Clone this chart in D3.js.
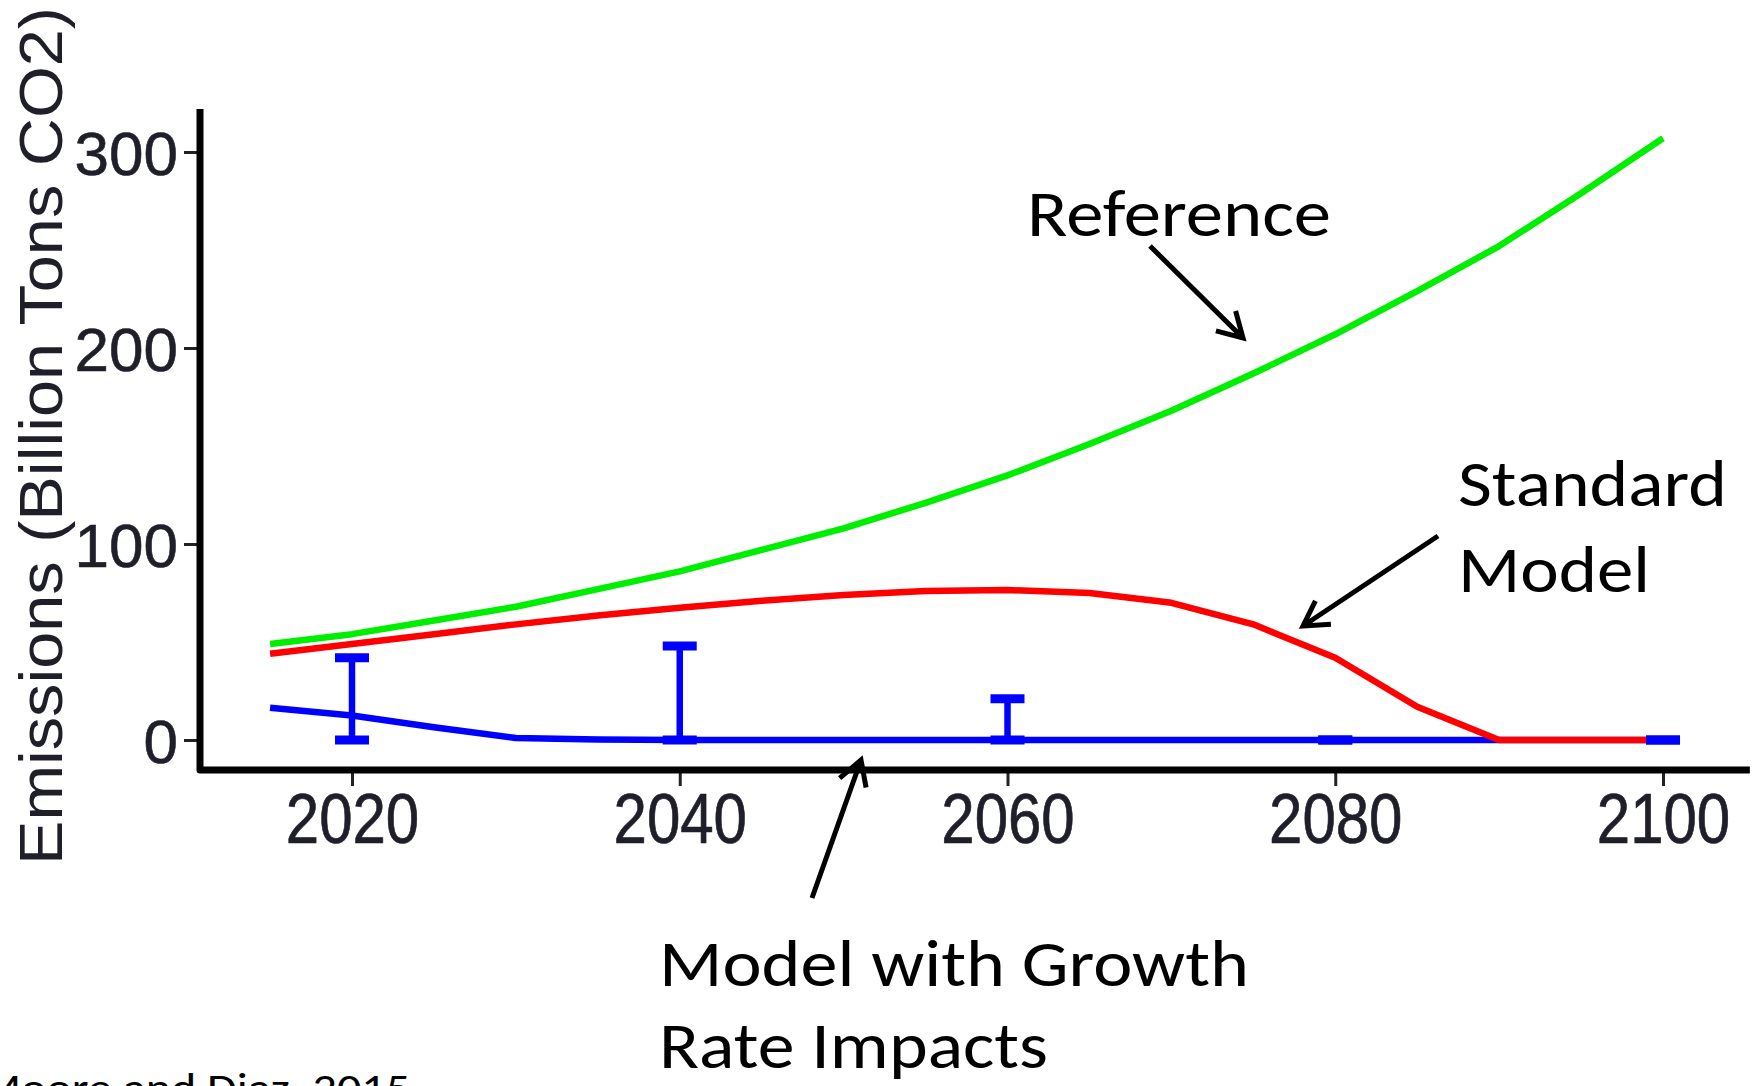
<!DOCTYPE html>
<html>
<head>
<meta charset="utf-8">
<script src="https://cdn.jsdelivr.net/npm/d3@7"></script>
<style>
  html, body { margin: 0; padding: 0; background: #ffffff; overflow: hidden; }
  svg { display: block; }
</style>
</head>
<body>
<svg id="chart" width="1764" height="1086"></svg>
<script>
// ---- Data ----
const years = [2015, 2020, 2025, 2030, 2035, 2040, 2045, 2050, 2055, 2060, 2065, 2070, 2075, 2080, 2085, 2090, 2095, 2100];
const referenceEmissions = [49, 54, 61, 68, 77, 86, 97, 108, 121, 135, 151, 168, 187, 207, 229, 252, 279, 307];
const standardEmissions  = [44, 49, 54, 59, 63.5, 67.5, 71, 74, 76, 76.5, 75, 70, 59, 42, 17, 0, 0, 0];
const growthEmissions    = [16.5, 12.5, 6.5, 1, 0.2, 0, 0, 0, 0, 0, 0, 0, 0, 0, 0, 0, 0, 0];

const errorYears = [2020, 2040, 2060, 2080, 2100];
const errorLow   = [0, 0, 0, 0, 0];
const errorHigh  = [42, 48, 21, 0, 0];

const xTicks = [2020, 2040, 2060, 2080, 2100];
const yTicks = [0, 100, 200, 300];

const yTitle = "Emissions (Billion Tons CO2)";
const annotations = [
  { lines: ["Reference"] },
  { lines: ["Standard", "Model"] },
  { lines: ["Model with Growth", "Rate Impacts"] }
];
const sourceNote = "Moore and Diaz, 2015";

// ---- Scales ----
const svg = d3.select("#chart");
const x = d3.scaleLinear().domain([2020, 2100]).range([352, 1663]);
const y = d3.scaleLinear().domain([0, 300]).range([740, 152]);
const xAxisExtent = [2010.7, 2105.3];
const yAxisExtent = [-15.3, 322];

const chartFont = "'Liberation Sans', Arial, sans-serif";
const noteFont = "Carlito, Lato, 'Open Sans', sans-serif";

// ---- Series lines ----
const line = d3.line().x(d => x(d[0])).y(d => y(d[1])).curve(d3.curveLinear);
const series = [
  { values: growthEmissions, color: "#0000ff" },
  { values: standardEmissions, color: "#ff0000" },
  { values: referenceEmissions, color: "#00ee00" }
];
series.forEach(s => {
  svg.append("path")
    .datum(years.map((yr, i) => [yr, s.values[i]]))
    .attr("d", line)
    .attr("fill", "none")
    .attr("stroke", s.color)
    .attr("stroke-width", 6.5)
    .attr("stroke-linejoin", "round");
});

// ---- Error bars ----
const capHalf = 17;
const eb = svg.append("g");
errorYears.forEach((yr, i) => {
  const cx = x(yr);
  eb.append("line").attr("x1", cx).attr("x2", cx)
    .attr("y1", y(errorLow[i])).attr("y2", y(errorHigh[i]))
    .attr("stroke", "#0000ff").attr("stroke-width", 6.5);
  [errorLow[i], errorHigh[i]].forEach(v => {
    eb.append("line").attr("x1", cx - capHalf).attr("x2", cx + capHalf)
      .attr("y1", y(v)).attr("y2", y(v))
      .attr("stroke", "#0000ff").attr("stroke-width", 9);
  });
});

// ---- Axes ----
const axisY = 770, axisX = 200;
const gx = svg.append("g").attr("transform", `translate(0,${axisY})`)
  .call(d3.axisBottom(x).tickValues(xTicks).tickFormat(d3.format("d")).tickSizeOuter(0).tickSizeInner(16).tickPadding(0));
gx.select(".domain").remove();
gx.selectAll(".tick line").attr("stroke", "#222").attr("stroke-width", 3);
gx.selectAll(".tick text")
  .attr("y", 0).attr("dy", null)
  .attr("transform", "translate(0,73) scale(1,1.17)")
  .attr("fill", "#1f1f2a")
  .attr("stroke", "#1f1f2a").attr("stroke-width", 0.6)
  .style("font-family", chartFont).style("font-size", "60px");

const gy = svg.append("g").attr("transform", `translate(${axisX},0)`)
  .call(d3.axisLeft(y).tickValues(yTicks).tickSizeOuter(0).tickSizeInner(16).tickPadding(0));
gy.select(".domain").remove();
gy.selectAll(".tick line").attr("stroke", "#222").attr("stroke-width", 3);
gy.selectAll(".tick text")
  .attr("x", -22).attr("dy", "0.36em")
  .attr("fill", "#1f1f2a")
  .attr("stroke", "#1f1f2a").attr("stroke-width", 0.6)
  .style("font-family", chartFont).style("font-size", "62px");

// axis lines
svg.append("path")
  .attr("d", `M${axisX},${y(yAxisExtent[1])} L${axisX},${axisY} L${x(xAxisExtent[1])},${axisY}`)
  .attr("fill", "none").attr("stroke", "#000").attr("stroke-width", 7)
  .attr("stroke-linejoin", "round");

// y title
svg.append("text")
  .attr("transform", "translate(62,436) rotate(-90)")
  .attr("text-anchor", "middle")
  .attr("textLength", 858).attr("lengthAdjust", "spacingAndGlyphs")
  .attr("fill", "#1f1f2a")
  .style("font-family", chartFont).style("font-size", "62px")
  .text(yTitle);

// ---- Annotations ----
function addText(str, px, py, len, size) {
  svg.append("text").attr("x", px).attr("y", py)
    .attr("textLength", len).attr("lengthAdjust", "spacingAndGlyphs")
    .attr("fill", "#000")
    .style("font-family", noteFont).style("font-size", size + "px")
    .text(str);
}
addText(annotations[0].lines[0], 1027, 236, 304, 66);
addText(annotations[1].lines[0], 1458, 506, 269, 66);
addText(annotations[1].lines[1], 1458, 592, 192, 66);
addText(annotations[2].lines[0], 659, 986, 590, 66);
addText(annotations[2].lines[1], 659, 1068, 389, 66);
addText(sourceNote, -20, 1102, 430, 42);

function arrow(x1, y1, x2, y2) {
  const ang = Math.atan2(y2 - y1, x2 - x1);
  const L = 28, spread = Math.PI / 6;
  const w1 = [x2 - L * Math.cos(ang - spread), y2 - L * Math.sin(ang - spread)];
  const w2 = [x2 - L * Math.cos(ang + spread), y2 - L * Math.sin(ang + spread)];
  svg.append("path")
    .attr("d", `M${x1},${y1} L${x2},${y2} M${w1[0]},${w1[1]} L${x2},${y2} L${w2[0]},${w2[1]}`)
    .attr("fill", "none").attr("stroke", "#000").attr("stroke-width", 5)
    .attr("stroke-linecap", "butt").attr("stroke-linejoin", "miter");
}
arrow(1150, 246, 1243, 338);
arrow(1438, 536, 1303, 626);
arrow(812, 898, 861, 760);
</script>
</body>
</html>
